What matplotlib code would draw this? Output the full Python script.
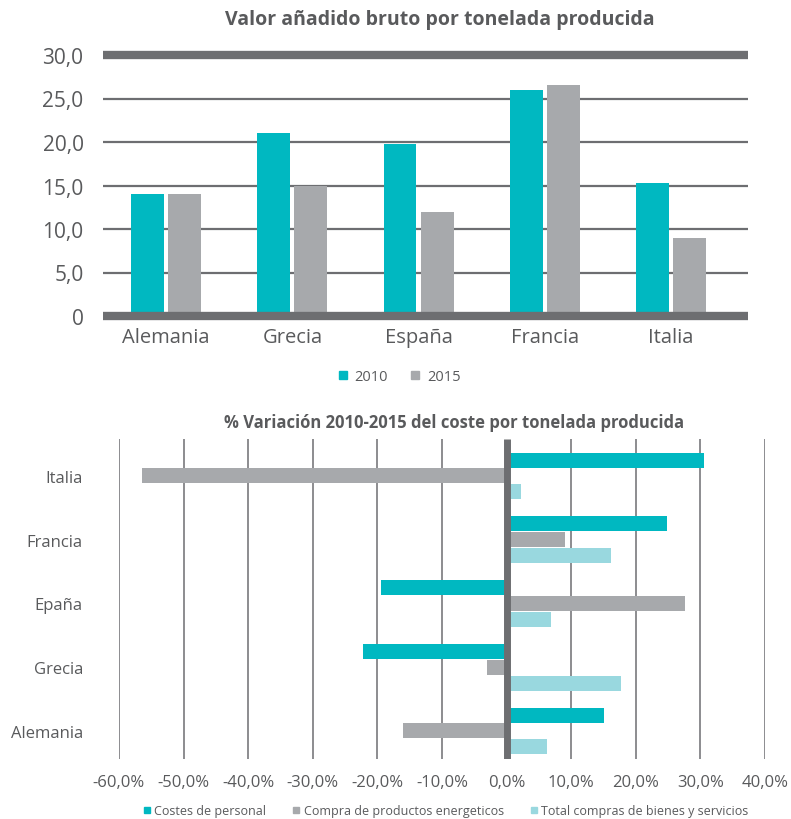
import matplotlib
matplotlib.use("Agg")
import matplotlib.pyplot as plt
from matplotlib.lines import Line2D
import numpy as np

plt.rcParams['font.family'] = ['Open Sans', 'DejaVu Sans']

# --- Valor añadido bruto por tonelada producida ---
paises = ["Alemania", "Grecia", "España", "Francia", "Italia"]
vab_2010 = [14.0, 21.0, 19.8, 26.0, 15.3]
vab_2015 = [14.0, 15.0, 12.0, 26.6, 9.0]
yticks_top = [0, 5, 10, 15, 20, 25, 30]
ytick_labels_top = ["0", "5,0", "10,0", "15,0", "20,0", "25,0", "30,0"]

# --- % Variación 2010-2015 del coste por tonelada producida ---
paises_var = ["Alemania", "Grecia", "Epaña", "Francia", "Italia"]
costes_personal = [15.0, -22.3, -19.5, 24.8, 30.6]
productos_energeticos = [-16.0, -3.0, 27.6, 9.0, -56.5]
bienes_servicios = [6.3, 17.7, 6.9, 16.1, 2.2]
xticks_bottom = [-60, -50, -40, -30, -20, -10, 0, 10, 20, 30, 40]
xtick_labels_bottom = ["-60,0%", "-50,0%", "-40,0%", "-30,0%", "-20,0%", "-10,0%",
                       "0,0%", "10,0%", "20,0%", "30,0%", "40,0%"]

TEAL = "#00b8c1"
GRAY = "#a7a9ac"
LIGHT = "#99d8df"
DARK = "#6d6e71"
TEXT = "#595a5c"

W, H = 791, 820
fig = plt.figure(figsize=(W / 100, H / 100), dpi=100)


def box(l, t, r, b):
    return [l / W, 1 - b / H, (r - l) / W, (b - t) / H]


# ---------------- top chart ----------------
ax1 = fig.add_axes(box(103, 56, 748, 317))
x = np.arange(len(paises))
bw = 0.26
off = 0.147
ax1.bar(x - off, vab_2010, bw, color=TEAL, zorder=3)
ax1.bar(x + off, vab_2015, bw, color=GRAY, zorder=3)
ax1.set_xlim(-0.5, 4.61)
ax1.set_ylim(0, 30)
for v in yticks_top[1:-1]:
    ax1.axhline(v, color=DARK, lw=1.6, zorder=1, solid_capstyle='butt')
ax1.axhline(30, color=DARK, lw=6, zorder=4, clip_on=False, solid_capstyle='butt')
ax1.axhline(0, color=DARK, lw=6, zorder=4, clip_on=False, solid_capstyle='butt')
for s in ax1.spines.values():
    s.set_visible(False)
ax1.set_yticks(yticks_top)
ax1.set_yticklabels(ytick_labels_top)
ax1.set_xticks(x)
ax1.set_xticklabels(paises)
ax1.tick_params(axis='y', length=0, pad=14, labelsize=15, labelcolor=TEXT)
ax1.tick_params(axis='x', length=0, pad=8, labelsize=14.5, labelcolor=TEXT)

fig.text(440 / W, 1 - 20 / H, "Valor añadido bruto por tonelada producida",
         ha='center', va='center', fontsize=14, fontweight='bold', color=TEXT)

h_top = [Line2D([], [], marker='s', ls='', color=TEAL, markersize=6),
         Line2D([], [], marker='s', ls='', color=GRAY, markersize=6)]
fig.legend(h_top, ["2010", "2015"], loc='center', bbox_to_anchor=(398 / W, 1 - 378 / H),
           ncol=2, frameon=False, fontsize=10.5, labelcolor=TEXT, handletextpad=0.3,
           columnspacing=1.4, handlelength=1.0)

# ---------------- bottom chart ----------------
ax2 = fig.add_axes(box(119, 440, 765, 760))
y = np.arange(len(paises_var))
bh = 0.235
step = 0.25
ax2.barh(y + step, costes_personal, bh, color=TEAL, zorder=3)
ax2.barh(y, productos_energeticos, bh, color=GRAY, zorder=3)
ax2.barh(y - step, bienes_servicios, bh, color=LIGHT, zorder=3)
ax2.set_xlim(-60, 40)
ax2.set_ylim(-0.44, 4.58)
for v in xticks_bottom:
    if v != 0:
        ax2.axvline(v, color=DARK, lw=1.1, zorder=1)
ax2.axvline(0, color=DARK, lw=5, zorder=4, solid_capstyle='butt')
for s in ax2.spines.values():
    s.set_visible(False)
ax2.set_xticks(xticks_bottom)
ax2.set_xticklabels(xtick_labels_bottom)
ax2.set_yticks(y)
ax2.set_yticklabels(paises_var)
ax2.tick_params(axis='x', length=0, pad=11, labelsize=12, labelcolor=TEXT)
ax2.tick_params(axis='y', length=0, pad=26, labelsize=12, labelcolor=TEXT)

fig.text(454 / W, 1 - 423 / H, "% Variación 2010-2015 del coste por tonelada producida",
         ha='center', va='center', fontsize=12, fontweight='bold', color=TEXT)

h_bot = [Line2D([], [], marker='s', ls='', color=TEAL, markersize=5),
         Line2D([], [], marker='s', ls='', color=GRAY, markersize=5),
         Line2D([], [], marker='s', ls='', color=LIGHT, markersize=5)]
fig.legend(h_bot, ["Costes de personal", "Compra de productos energeticos",
                   "Total compras de bienes y servicios"],
           loc='center', bbox_to_anchor=(445 / W, 1 - 812 / H), ncol=3, frameon=False,
           fontsize=9, labelcolor=TEXT, handletextpad=0.2, columnspacing=2.0,
           handlelength=0.8)

fig.savefig("out.png", dpi=100)
